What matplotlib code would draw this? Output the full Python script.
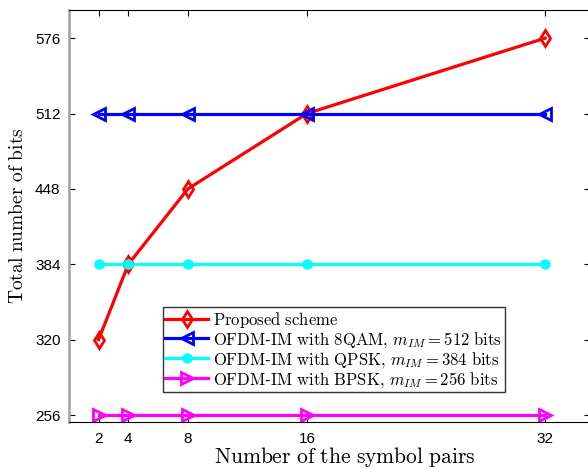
import numpy as np
import matplotlib.pyplot as plt

plt.rcParams['mathtext.fontset'] = 'cm'
plt.rcParams['font.family'] = ['Liberation Sans', 'DejaVu Sans']

pairs = [2, 4, 8, 16, 32]
proposed = [320, 384, 448, 512, 576]
qam8 = [512, 512, 512, 512, 512]
qpsk = [384, 384, 384, 384, 384]
bpsk = [256, 256, 256, 256, 256]

fig = plt.figure(figsize=(5.88, 4.69), dpi=100)
ax = fig.add_axes([0.117, 0.100, 0.886, 0.879])

lw = 2.3
ax.plot(pairs, proposed, color='red', lw=lw, marker='d', ms=8, mfc='none', mew=2,
        label=r'$\mathrm{Proposed\ scheme}$')
ax.plot(pairs, qam8, color='blue', lw=lw, marker='<', ms=9, mfc='none', mew=2,
        label=r'$\mathrm{OFDM}$-$\mathrm{IM\ with\ 8QAM},\,m_{IM}=512\ \mathrm{bits}$')
ax.plot(pairs, qpsk, color='cyan', lw=lw, marker='o', ms=6.5,
        label=r'$\mathrm{OFDM}$-$\mathrm{IM\ with\ QPSK},\,m_{IM}=384\ \mathrm{bits}$')
ax.plot(pairs, bpsk, color='magenta', lw=lw, marker='>', ms=9, mfc='none', mew=2,
        label=r'$\mathrm{OFDM}$-$\mathrm{IM\ with\ BPSK},\,m_{IM}=256\ \mathrm{bits}$')

ax.set_xlim(0, 35)
ax.set_ylim(250, 600)
ax.set_xticks(pairs)
ax.set_yticks([256, 320, 384, 448, 512, 576])
ax.tick_params(direction='in', top=True, right=True, labelsize=11, length=4)
ax.tick_params(axis='x', pad=7)
ax.tick_params(axis='y', pad=6)
ax.spines['left'].set_color('#a0a0a0')
ax.spines['left'].set_linewidth(1.8)

ax.set_xlabel(r'$\mathrm{Number\ of\ the\ symbol\ pairs}$', fontsize=15.5, labelpad=0)
ax.xaxis.set_label_coords(0.53, -0.055)
ax.set_ylabel(r'$\mathrm{Total\ number\ of\ bits}$', fontsize=14, labelpad=6)

leg = ax.legend(loc='lower left', bbox_to_anchor=(0.18, 0.073), fontsize=12,
                fancybox=False, edgecolor='#333333', framealpha=1,
                borderpad=0.15, labelspacing=0.0, handlelength=2.6,
                handletextpad=0.3, borderaxespad=0)
leg.get_frame().set_linewidth(1.0)

fig.savefig('out.png', dpi=100)
